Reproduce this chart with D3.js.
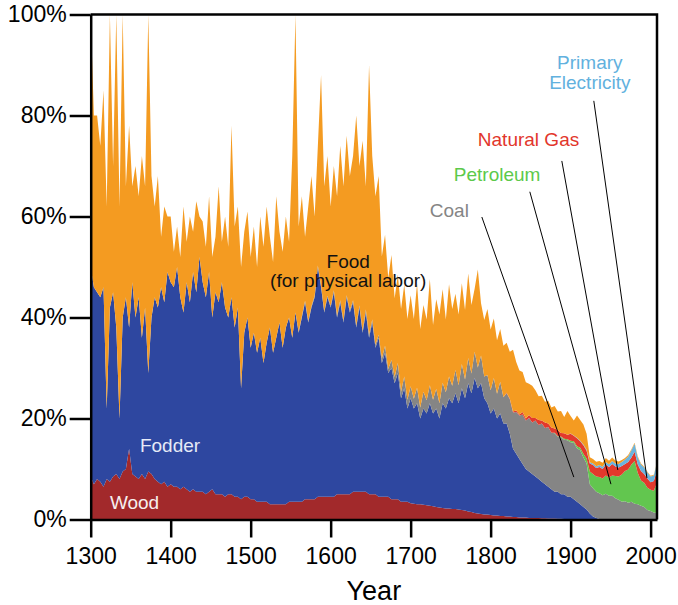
<!DOCTYPE html>
<html>
<head>
<meta charset="utf-8">
<script src="https://cdn.jsdelivr.net/npm/d3@7"></script>
<style>
  body { margin: 0; background: #fff; }
  svg { display: block; font-family: "Liberation Sans", Arial, Helvetica, sans-serif; }
</style>
</head>
<body>
<svg width="678" height="605"></svg>
<script>
// share of each energy source, every 4 years from 1300 to 2008 (percent)
var years = d3.range(1300, 2009, 4);

var wood = [
  8.5, 7, 8, 7.5, 6.5, 8, 7.5, 8.5, 9, 8,
  9.5, 10, 14, 9, 8.5, 8, 9, 8, 9.5, 9,
  8, 7.5, 7, 7.5, 6.5, 7, 6.5, 6.5, 6, 6.5,
  6, 5.5, 6, 5.5, 5.5, 5.5, 5, 5.5, 6, 5,
  5, 5, 4.5, 5, 5, 4.5, 4.5, 4, 4.5, 4.5,
  4, 4, 3.5, 3.5, 3.5, 3.5, 3, 3, 3, 3,
  3, 3, 3.5, 3.5, 3.5, 3.5, 3.5, 4, 4, 4,
  4, 4.5, 4.5, 4.5, 4.5, 4.5, 4.5, 5, 5, 5,
  5, 5, 5.5, 5.5, 5.5, 5.5, 5.5, 5, 5, 5,
  4.5, 4.5, 4.5, 4.5, 4, 4, 4, 3.5, 3.5, 3.5,
  3.2, 3.1, 3, 3, 2.9, 2.8, 2.7, 2.6, 2.5, 2.4,
  2.3, 2.2, 2.2, 2.1, 2.1, 2, 1.9, 1.8, 1.6, 1.5,
  1.3, 1.2, 1.1, 1, 1, 0.9, 0.8, 0.8, 0.7, 0.7,
  0.6, 0.6, 0.5, 0.5, 0.4, 0.4, 0.4, 0.3, 0.3, 0.3,
  0.3, 0.25, 0.25, 0.2, 0.2, 0.2, 0.15, 0.15, 0.1, 0.1,
  0.1, 0.08, 0.06, 0.05, 0.05, 0.04, 0.03, 0.02, 0.01, 0,
  0, 0, 0, 0, 0, 0, 0, 0, 0, 0,
  0, 0, 0, 0, 0, 0, 0, 0
];

var fodder = [
  41.5, 39, 37, 36.5, 39.5, 14, 34.5, 36.5, 29, 12,
  30.5, 34, 24, 38, 31.5, 36, 27, 34, 19.5, 31,
  36, 34.5, 39, 35.5, 42.5, 40, 39.5, 43.5, 38, 34.5,
  41, 37.5, 43, 39.5, 46.5, 41.5, 39, 43.5, 34, 40,
  38, 42, 37.5, 35, 39, 33.5, 37.5, 22, 32.5, 35.5,
  30, 33, 29.5, 32.5, 27.5, 31.5, 35, 30, 33, 36,
  31, 35, 36.5, 32.5, 37.5, 33.5, 36.5, 39, 35, 38,
  40, 45.5, 41.5, 36.5, 39.5, 37.5, 40.5, 35, 38, 34,
  39, 36, 37.5, 32.5, 36.5, 31.5, 35.5, 31, 34, 29,
  31.5, 26.5, 28.5, 24.5, 26, 23, 25, 20.5, 22.5, 18.5,
  20.8, 18.9, 20, 17, 19.1, 18.2, 20.3, 18.4, 19.5, 17.6,
  20.7, 19.8, 21.8, 20.9, 22.9, 21, 24.1, 22.2, 25.4, 23.5,
  26.7, 24.8, 25.9, 23, 22, 20.1, 21.2, 19.2, 20.3, 18.3,
  18.4, 16.4, 13.5, 12.5, 11.6, 10.6, 9.6, 9.2, 8.7, 8.2,
  7.7, 7.25, 6.75, 6.3, 5.8, 5.3, 5.35, 4.85, 4.9, 4.4,
  4.4, 3.92, 3.44, 2.95, 2.45, 1.96, 1.17, 0.58, 0.29, 0.1,
  0, 0, 0, 0, 0, 0, 0, 0, 0, 0,
  0, 0, 0, 0, 0, 0, 0, 0
];

var coal = [
  0, 0, 0, 0, 0, 0, 0, 0, 0, 0,
  0, 0, 0, 0, 0, 0, 0, 0, 0, 0,
  0, 0, 0, 0, 0, 0, 0, 0, 0, 0,
  0, 0, 0, 0, 0, 0, 0, 0, 0, 0,
  0, 0, 0, 0, 0, 0, 0, 0, 0, 0,
  0, 0, 0, 0, 0, 0, 0, 0, 0, 0,
  0, 0, 0, 0, 0, 0.2, 0.3, 0.3, 0.3, 0.3,
  0.3, 0.3, 0.3, 0.3, 0.3, 0.3, 0.4, 0.4, 0.4, 0.4,
  0.4, 0.4, 0.4, 0.4, 0.4, 0.4, 0.6, 0.6, 0.6, 0.6,
  0.6, 0.9, 1.4, 0.8, 1.6, 1.2, 2, 1.3, 2.3, 1.7,
  2.4, 1.9, 3.1, 2.2, 3.3, 2.6, 3.6, 2.7, 3.9, 3,
  4.1, 3.2, 4.3, 3.5, 4.6, 3.6, 4.8, 3.7, 5, 3.9,
  5.2, 4.1, 5.5, 4.3, 5.6, 4.6, 6, 4.9, 6.3, 5.2,
  6, 6.8, 7.2, 8.3, 8.6, 9.8, 9.6, 10.6, 10.2, 11.1,
  10.7, 11.5, 11.1, 11.8, 11.2, 11.6, 10.9, 11.3, 10.8, 11.2,
  10.8, 11.2, 10.6, 10.7, 9.8, 9.1, 5.8, 5.6, 5.2, 5.1,
  4.8, 5.1, 4.7, 4.7, 4.2, 3.9, 3.5, 3.6, 3.3, 3.5,
  3.1, 3, 2.7, 2.5, 1.9, 1.7, 1.4, 1.3
];

var petroleum = [
  0, 0, 0, 0, 0, 0, 0, 0, 0, 0,
  0, 0, 0, 0, 0, 0, 0, 0, 0, 0,
  0, 0, 0, 0, 0, 0, 0, 0, 0, 0,
  0, 0, 0, 0, 0, 0, 0, 0, 0, 0,
  0, 0, 0, 0, 0, 0, 0, 0, 0, 0,
  0, 0, 0, 0, 0, 0, 0, 0, 0, 0,
  0, 0, 0, 0, 0, 0, 0, 0, 0, 0,
  0, 0, 0, 0, 0, 0, 0, 0, 0, 0,
  0, 0, 0, 0, 0, 0, 0, 0, 0, 0,
  0, 0, 0, 0, 0, 0, 0, 0, 0, 0,
  0, 0, 0, 0, 0, 0, 0, 0, 0, 0,
  0, 0, 0, 0, 0, 0, 0, 0, 0, 0,
  0, 0, 0, 0, 0, 0, 0, 0, 0, 0,
  0, 0, 0, 0, 0, 0, 0, 0, 0, 0,
  0, 0, 0, 0, 0, 0.1, 0.1, 0.15, 0.2, 0.2,
  0.3, 0.3, 0.4, 0.5, 0.7, 1, 2.5, 2.8, 3, 3.2,
  3.3, 3.6, 3.6, 4, 4.4, 4.6, 5.4, 6, 6.6, 7.4,
  8.5, 6.2, 5, 4.8, 4.4, 4.2, 4.3, 6
];

var gas = [
  0, 0, 0, 0, 0, 0, 0, 0, 0, 0,
  0, 0, 0, 0, 0, 0, 0, 0, 0, 0,
  0, 0, 0, 0, 0, 0, 0, 0, 0, 0,
  0, 0, 0, 0, 0, 0, 0, 0, 0, 0,
  0, 0, 0, 0, 0, 0, 0, 0, 0, 0,
  0, 0, 0, 0, 0, 0, 0, 0, 0, 0,
  0, 0, 0, 0, 0, 0, 0, 0, 0, 0,
  0, 0, 0, 0, 0, 0, 0, 0, 0, 0,
  0, 0, 0, 0, 0, 0, 0, 0, 0, 0,
  0, 0, 0, 0, 0, 0, 0, 0, 0, 0,
  0, 0, 0, 0, 0, 0, 0, 0, 0, 0,
  0, 0, 0, 0, 0, 0, 0, 0, 0, 0,
  0, 0, 0, 0, 0, 0, 0, 0, 0, 0,
  0.1, 0.1, 0.2, 0.3, 0.2, 0.5, 0.4, 0.6, 0.9, 0.5,
  1, 0.6, 1.1, 0.7, 1, 0.8, 1.2, 0.7, 1.1, 0.9,
  1.4, 1.1, 1.6, 1.3, 1.7, 1.5, 1.6, 1.8, 1.7, 2,
  1.9, 2.2, 2.1, 2.3, 1.9, 1.8, 1.7, 1.4, 1.5, 1.4,
  1.8, 1.7, 1.9, 1.7, 1.8, 1.5, 1.9, 2.4
];

var electricity = [
  0, 0, 0, 0, 0, 0, 0, 0, 0, 0,
  0, 0, 0, 0, 0, 0, 0, 0, 0, 0,
  0, 0, 0, 0, 0, 0, 0, 0, 0, 0,
  0, 0, 0, 0, 0, 0, 0, 0, 0, 0,
  0, 0, 0, 0, 0, 0, 0, 0, 0, 0,
  0, 0, 0, 0, 0, 0, 0, 0, 0, 0,
  0, 0, 0, 0, 0, 0, 0, 0, 0, 0,
  0, 0, 0, 0, 0, 0, 0, 0, 0, 0,
  0, 0, 0, 0, 0, 0, 0, 0, 0, 0,
  0, 0, 0, 0, 0, 0, 0, 0, 0, 0,
  0, 0, 0, 0, 0, 0, 0, 0, 0, 0,
  0, 0, 0, 0, 0, 0, 0, 0, 0, 0,
  0, 0, 0, 0, 0, 0, 0, 0, 0, 0,
  0, 0, 0, 0, 0, 0, 0, 0, 0, 0,
  0, 0, 0, 0, 0, 0, 0, 0, 0, 0,
  0.05, 0.05, 0.1, 0.1, 0.15, 0.2, 0.25, 0.3, 0.35, 0.4,
  0.45, 0.5, 0.55, 0.6, 0.6, 0.7, 0.8, 0.9, 1.1, 1.4,
  1.6, 1.4, 1.3, 1.3, 1.2, 1.1, 1.1, 1.5
];

var food = [
  50, 34, 35, 30, 39, 40, 58, 25, 62, 42,
  60, 22, 40, 19, 30, 20, 36, 24, 71, 28,
  18, 26, 10, 19, 11, 13, 7, 8, 8, 21,
  8, 17, 8, 18, 8, 12, 10, 15, 12, 11,
  23, 8, 18, 14, 34, 20, 20, 24, 20, 21,
  18, 21, 17, 24, 23, 27, 18, 18, 28, 18,
  19, 22, 15, 36, 59, 20.8, 23.7, 12.7, 22.7, 25.7,
  15.7, 23.7, 41.7, 24.7, 27.7, 19.7, 24.6, 23.6, 30.6, 26.6,
  31.6, 26.6, 28.6, 41.6, 27.6, 37.6, 24.4, 53.4, 32.4, 29.4,
  31.4, 20.2, 22, 18, 20.8, 15.6, 17.5, 16.4, 18.2, 16,
  18, 15.8, 20.6, 15.5, 17.2, 16, 21, 14.8, 17.7, 17.6,
  18.5, 14.4, 18.3, 15.2, 15.1, 14, 16, 13.8, 16.7, 13.6,
  12.5, 19.4, 10.3, 11.2, 13.1, 12, 11.8, 10.6, 10.4, 10.2,
  9.9, 9.3, 12.2, 9.6, 8.7, 7.9, 7.2, 6.2, 6.4, 5.5,
  4.7, 4.9, 4.1, 4.5, 4, 4.5, 3.7, 4.35, 3.2, 4.7,
  3.45, 2.95, 4.4, 4.1, 3.95, 3.2, 1, 0.9, 0.9, 0.8,
  0.8, 0.8, 0.7, 0.7, 0.6, 0.5, 0.4, 0.3, 0.25, 0.2,
  0.2, 0.2, 0.2, 0.15, 0.15, 0.15, 0.15, 0.15
];

var keys = ["wood", "fodder", "coal", "petroleum", "gas", "electricity", "food"];
var colors = {
  wood: "#a2292b", fodder: "#2e47a0", coal: "#858585", petroleum: "#62c64f",
  gas: "#e3392c", electricity: "#6ab4df", food: "#f49b21"
};
var yTicks = [0, 20, 40, 60, 80, 100];
var xTicks = [1300, 1400, 1500, 1600, 1700, 1800, 1900, 2000];

// labels placed in data space (year, percent)
var labels = [
  {text: "Wood", year: 1324, pct: 2.1, color: "#f6eeee", anchor: "start"},
  {text: "Fodder", year: 1361.5, pct: 13.4, color: "#e6eaf7", anchor: "start"},
  {text: "Food", year: 1622, pct: 49.8, color: "#111", anchor: "middle"},
  {text: "(for physical labor)", year: 1622, pct: 46.0, color: "#111", anchor: "middle"},
  {text: "Coal", year: 1724, pct: 59.9, color: "#858585", anchor: "start"},
  {text: "Petroleum", year: 1754, pct: 67.0, color: "#5cc94b", anchor: "start"},
  {text: "Natural Gas", year: 1784, pct: 74.0, color: "#e2362b", anchor: "start"},
  {text: "Primary", year: 1924, pct: 89.2, color: "#62b1de", anchor: "middle"},
  {text: "Electricity", year: 1924, pct: 85.2, color: "#62b1de", anchor: "middle"}
];
var leaders = [
  [1789, 59.9, 1904, 8.4],
  [1849, 64.9, 1950.4, 7.0],
  [1889, 71.0, 1959, 9.8],
  [1929, 82.9, 1995.4, 8.2]
];

var svg = d3.select("svg");

var x = d3.scaleLinear().domain([1300, 2008]).range([90.7, 657]);
var y = d3.scaleLinear().domain([0, 100]).range([519.5, 14.5]);

var table = years.map(function(yr, i) {
  return {
    year: yr, wood: wood[i], fodder: fodder[i], coal: coal[i], petroleum: petroleum[i],
    gas: gas[i], electricity: electricity[i], food: food[i]
  };
});

var series = d3.stack().keys(keys)(table);

svg.append("clipPath").attr("id", "plot")
  .append("rect")
  .attr("x", x(1300)).attr("y", y(100))
  .attr("width", x(2008) - x(1300)).attr("height", y(0) - y(100));

var area = d3.area()
  .x(function(d) { return x(d.data.year); })
  .y0(function(d) { return y(d[0]); })
  .y1(function(d) { return y(d[1]); });

svg.append("g")
  .attr("clip-path", "url(#plot)")
  .selectAll("path")
  .data(series)
  .enter().append("path")
  .attr("fill", function(d) { return colors[d.key]; })
  .attr("d", area);

// frame
svg.append("path")
  .attr("fill", "none").attr("stroke", "#000").attr("stroke-width", 2.5)
  .attr("d", "M" + x(1300) + "," + y(100) + "H" + x(2008) + "V" + y(0));

var yAxis = svg.append("g")
  .attr("transform", "translate(" + x(1300) + ",0)")
  .call(d3.axisLeft(y).tickValues(yTicks).tickFormat(function(d) { return d + "%"; })
    .tickSize(21).tickSizeOuter(0).tickPadding(3));

var xAxis = svg.append("g")
  .attr("transform", "translate(0," + y(0) + ")")
  .call(d3.axisBottom(x).tickValues(xTicks).tickFormat(d3.format("d"))
    .tickSize(18).tickSizeOuter(0).tickPadding(10));

[yAxis, xAxis].forEach(function(g) {
  g.selectAll("path, line").attr("stroke", "#000").attr("stroke-width", 2.5);
  g.selectAll("text").attr("fill", "#000")
    .style("font-size", "23px")
    .style("font-family", "'Liberation Sans', Arial, sans-serif");
});

svg.append("text")
  .attr("x", (x(1300) + x(2008)) / 2)
  .attr("y", 600)
  .attr("text-anchor", "middle")
  .style("font-size", "27px")
  .text("Year");

svg.append("g")
  .selectAll("line")
  .data(leaders)
  .enter().append("line")
  .attr("x1", function(d) { return x(d[0]); })
  .attr("y1", function(d) { return y(d[1]); })
  .attr("x2", function(d) { return x(d[2]); })
  .attr("y2", function(d) { return y(d[3]); })
  .attr("stroke", "#000")
  .attr("stroke-width", 1);

svg.append("g")
  .selectAll("text")
  .data(labels)
  .enter().append("text")
  .attr("x", function(d) { return x(d.year); })
  .attr("y", function(d) { return y(d.pct); })
  .attr("text-anchor", function(d) { return d.anchor; })
  .attr("fill", function(d) { return d.color; })
  .style("font-size", "19px")
  .text(function(d) { return d.text; });
</script>
</body>
</html>
